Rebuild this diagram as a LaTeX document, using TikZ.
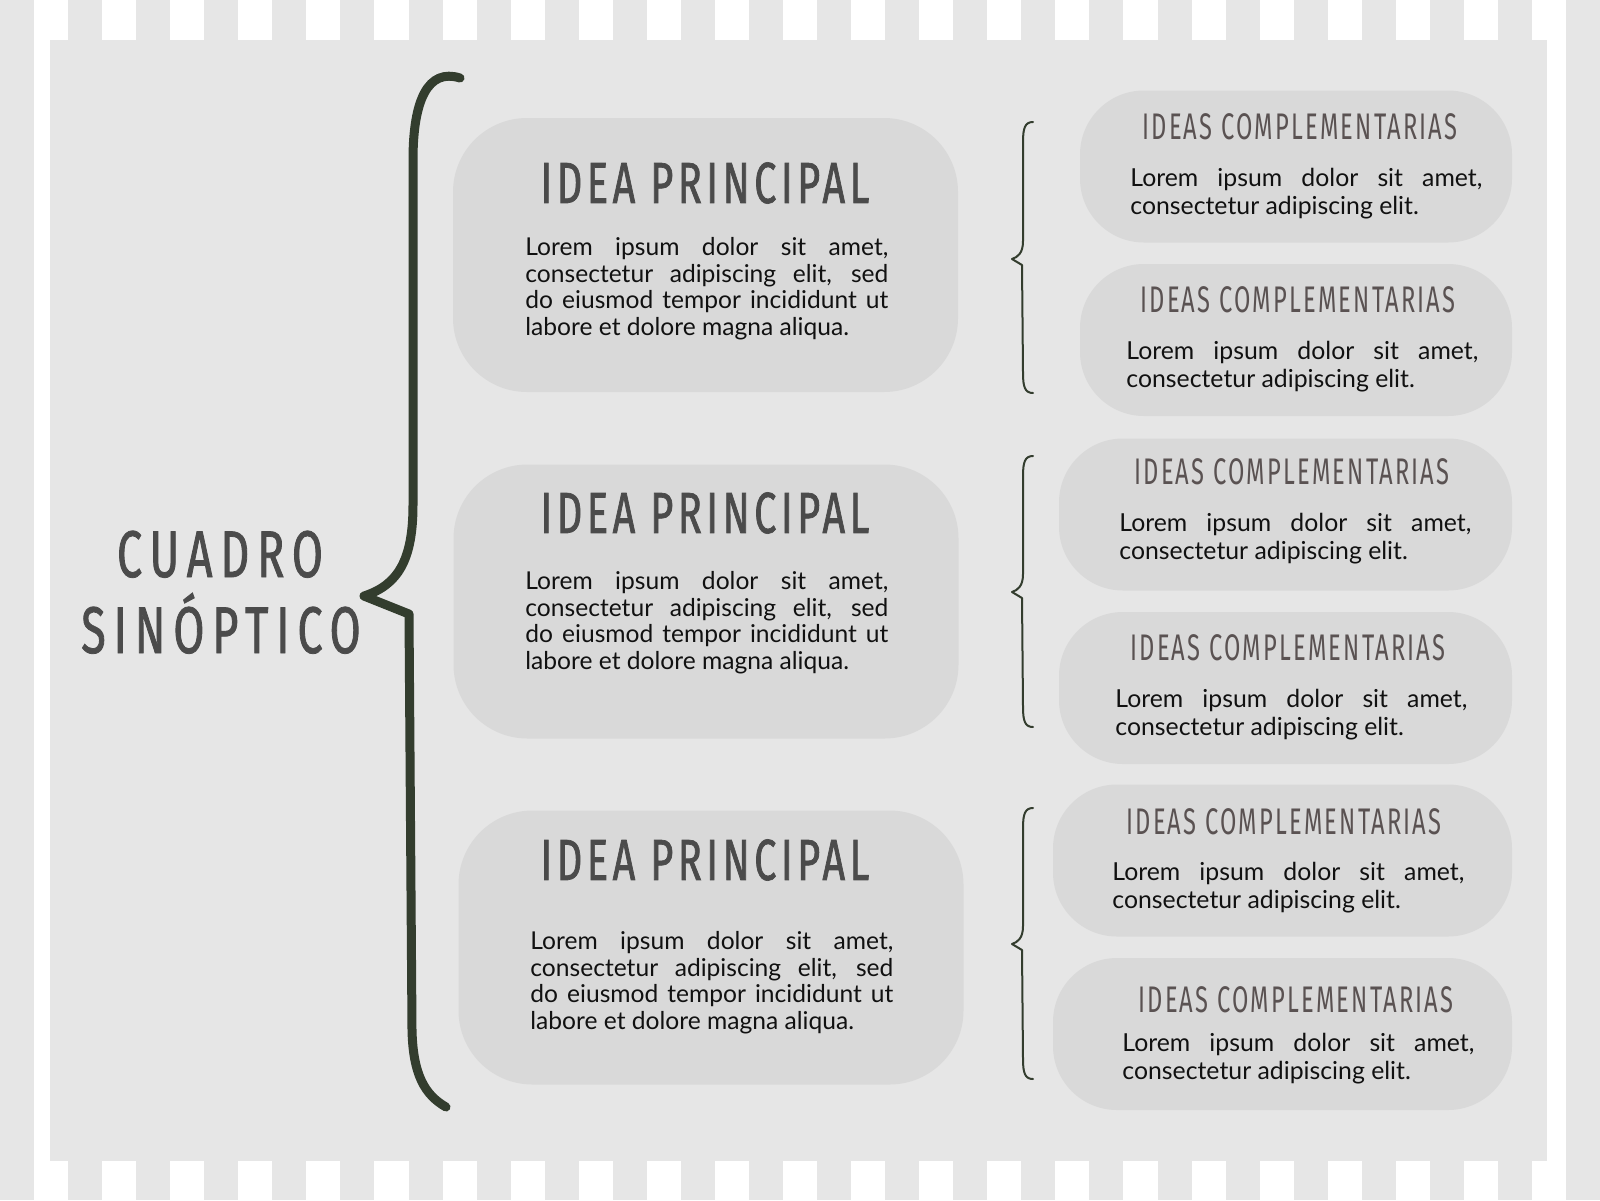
\documentclass[tikz,border=0pt]{standalone}
\usepackage{fontspec}
\setmainfont{Lato}
\newfontfamily\handfont[FakeStretch=0.64,LetterSpace=6]{Fira Sans}
\newfontfamily\handfontbold[FakeStretch=0.68,LetterSpace=8,FakeBold=1.2]{Fira Sans}
\newfontfamily\handfontwide[FakeStretch=0.68,LetterSpace=12,FakeBold=1.2]{Fira Sans}

\definecolor{panelgray}{HTML}{E6E6E6}
\definecolor{boxgray}{HTML}{D9D9D9}
\definecolor{titlegray}{HTML}{4B4B4B}
\definecolor{compgray}{HTML}{5A5252}
\definecolor{textblack}{HTML}{111111}
\definecolor{bracegreen}{HTML}{333D2E}

\tikzset{
	idea/.style={rectangle, rounded corners=37pt, fill=boxgray, minimum width=252.5pt, minimum height=137pt, inner sep=0pt},
	comp/.style={rectangle, rounded corners=32pt, fill=boxgray, minimum height=76pt, inner sep=0pt},
	ideatitle/.style={inner sep=0pt, text=titlegray, font=\handfontbold\fontsize{29}{30}\selectfont},
	comptitle/.style={inner sep=0pt, text=compgray, font=\handfont\fontsize{18.5}{20}\selectfont},
	bigtitle/.style={anchor=base, inner sep=0pt, text=titlegray, font=\handfontwide\fontsize{33}{34}\selectfont},
	ideatext/.style={anchor=base west, inner sep=0pt, text width=181.5pt, align=justify, text=textblack, font=\fontsize{12.3}{13.3}\selectfont},
	comptext/.style={anchor=base west, inner sep=0pt, text width=176pt, align=justify, text=textblack, font=\fontsize{12.4}{14}\selectfont},
	bigbrace/.style={draw=bracegreen, line width=4.5pt, line cap=round, line join=round},
	smallbrace/.style={draw=bracegreen, line width=1pt, line cap=round, line join=round}
}

\begin{document}
\begin{tikzpicture}[x=0.5pt, y=-0.5pt]
	\useasboundingbox (0, 0) rectangle (1600, 1200);
	% striped frame and panel
	\fill [white] (0, 0) rectangle (1600, 1200);
	\foreach \i in {0,...,23}
		\fill [panelgray] (\i*68.09, 0) rectangle ++(34.04, 1200);
	\fill [panelgray] (50, 40) rectangle (1547, 1161);

	% title
	\node [bigtitle] (Title_1) at (220, 577) {CUADRO};
	\node [bigtitle] (Title_2) at (221, 653) {SINÓPTICO};

	% big brace
	\coordinate (Brace_top) at (460, 78);
	\coordinate (Brace_tip) at (364, 596);
	\coordinate (Brace_bottom) at (446, 1107);
	\draw [bigbrace] (Brace_top) .. controls (428, 68) and (413, 100) .. (413, 160) -- (413, 505)
		.. controls (413, 560) and (398, 585) .. (Brace_tip) -- (409, 614) -- (412, 1030)
		.. controls (413, 1075) and (425, 1095) .. (Brace_bottom);

	% main ideas
	\node [idea] (Idea_1) at (705.5, 255) {};
	\node [idea] (Idea_2) at (706, 601.5) {};
	\node [idea] (Idea_3) at (711, 947.5) {};
	\node [ideatitle] (Idea_title_1) at (705, 183) {IDEA PRINCIPAL};
	\node [ideatitle] (Idea_title_2) at (705, 513) {IDEA PRINCIPAL};
	\node [ideatitle] (Idea_title_3) at (705, 860) {IDEA PRINCIPAL};
	\node [ideatext] (Idea_text_1) at (525, 255.5) {Lorem ipsum dolor sit amet,\linebreak consectetur adipiscing elit, sed\linebreak do eiusmod tempor incididunt ut\linebreak labore et dolore magna aliqua.};
	\node [ideatext] (Idea_text_2) at (525, 589.5) {Lorem ipsum dolor sit amet,\linebreak consectetur adipiscing elit, sed\linebreak do eiusmod tempor incididunt ut\linebreak labore et dolore magna aliqua.};
	\node [ideatext] (Idea_text_3) at (530, 949.5) {Lorem ipsum dolor sit amet,\linebreak consectetur adipiscing elit, sed\linebreak do eiusmod tempor incididunt ut\linebreak labore et dolore magna aliqua.};

	% small braces
	\foreach \t/\p/\b in {122/259/393, 456/592/727, 808/944/1079}
		\draw [smallbrace] (1033, \t) .. controls (1025, \t) and (1023, \t+6) .. (1023, \t+20) -- (1023, \p-18)
			.. controls (1023, \p-6) and (1018, \p-2) .. (1012, \p) -- (1022, \p+6) -- (1023, \b-20)
			.. controls (1023, \b-6) and (1025, \b) .. (1033, \b);

	% complementary ideas
	\node [comp, minimum width=216pt] (Comp_1) at (1296, 166.5) {};
	\node [comp, minimum width=216pt] (Comp_2) at (1296, 340) {};
	\node [comp, minimum width=226.5pt] (Comp_3) at (1285.5, 514.5) {};
	\node [comp, minimum width=226.5pt] (Comp_4) at (1285.5, 688) {};
	\node [comp, minimum width=229.5pt] (Comp_5) at (1282.5, 860.5) {};
	\node [comp, minimum width=229.5pt] (Comp_6) at (1282.5, 1034) {};
	\node [comptitle] (Comp_title_1) at (1300, 127) {IDEAS COMPLEMENTARIAS};
	\node [comptitle] (Comp_title_2) at (1298, 300) {IDEAS COMPLEMENTARIAS};
	\node [comptitle] (Comp_title_3) at (1292, 472) {IDEAS COMPLEMENTARIAS};
	\node [comptitle] (Comp_title_4) at (1288, 648) {IDEAS COMPLEMENTARIAS};
	\node [comptitle] (Comp_title_5) at (1284, 822) {IDEAS COMPLEMENTARIAS};
	\node [comptitle] (Comp_title_6) at (1296, 1000) {IDEAS COMPLEMENTARIAS};
	\node [comptext] (Comp_text_1) at (1130, 186) {Lorem ipsum dolor sit amet,\linebreak consectetur adipiscing elit.};
	\node [comptext] (Comp_text_2) at (1126, 359.5) {Lorem ipsum dolor sit amet,\linebreak consectetur adipiscing elit.};
	\node [comptext] (Comp_text_3) at (1119, 531.5) {Lorem ipsum dolor sit amet,\linebreak consectetur adipiscing elit.};
	\node [comptext] (Comp_text_4) at (1115, 707.5) {Lorem ipsum dolor sit amet,\linebreak consectetur adipiscing elit.};
	\node [comptext] (Comp_text_5) at (1112, 880.5) {Lorem ipsum dolor sit amet,\linebreak consectetur adipiscing elit.};
	\node [comptext] (Comp_text_6) at (1122, 1051.5) {Lorem ipsum dolor sit amet,\linebreak consectetur adipiscing elit.};
\end{tikzpicture}
\end{document}
